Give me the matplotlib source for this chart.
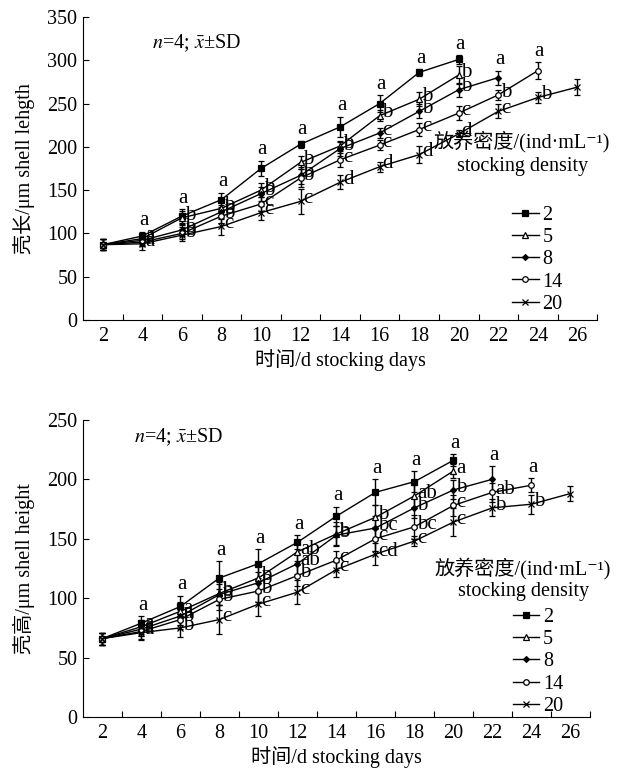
import numpy as np
import matplotlib
matplotlib.use("Agg")
import matplotlib.pyplot as plt
from matplotlib.lines import Line2D

plt.rcParams['font.family'] = ['Liberation Serif', 'Noto Sans CJK SC', 'DejaVu Serif']
plt.rcParams['mathtext.fontset'] = 'stix'

nan = np.nan
days = [2, 4, 6, 8, 10, 12, 14, 16, 18, 20, 22, 24, 26]
densities = ['2', '5', '8', '14', '20']
markers = ['s', '^', 'D', 'o', 'x']
mfc = ['black', 'white', 'black', 'white', 'black']
msizes = [4.5, 4, 3, 4, 5]

# ---- shell length (top) ----
len_mean = {
    '2':  [87, 97, 120, 139, 175, 203, 223, 250, 286, 301, nan, nan, nan],
    '5':  [87, 94, 118, 129, 150, 182, 201, 236, 255, 283, nan, nan, nan],
    '8':  [87, 92, 104, 125, 146, 167, 198, 216, 241, 266, 280, nan, nan],
    '14': [87, 90, 100, 120, 134, 164, 185, 202, 220, 239, 260, 288, nan],
    '20': [87, 88, 98, 108, 124, 137, 159, 177, 191, 215, 241, 257, 269],
}
len_sd = {
    '2':  [6, 5, 8, 8, 9, 4, 12, 10, 4, 5, nan, nan, nan],
    '5':  [6, 5, 8, 8, 8, 8, 6, 6, 8, 10, nan, nan, nan],
    '8':  [6, 5, 7, 8, 8, 10, 8, 6, 8, 8, 8, nan, nan],
    '14': [6, 5, 7, 8, 8, 10, 8, 6, 8, 8, 6, 10, nan],
    '20': [6, 7, 7, 10, 8, 14, 8, 6, 10, 4, 8, 6, 9],
}
len_letters = {
    '2':  ['', 'a', 'a', 'a', 'a', 'a', 'a', 'a', 'a', 'a', '', '', ''],
    '5':  ['', 'a', 'b', 'b', 'b', 'b', 'b', 'b', 'b', 'b', '', '', ''],
    '8':  ['', 'a', 'b', 'b', 'b', 'b', 'b', 'c', 'b', 'b', 'a', '', ''],
    '14': ['', 'a', 'b', 'b', 'c', 'b', 'c', 'c', 'c', 'c', 'b', 'a', ''],
    '20': ['', 'a', 'b', 'c', 'c', 'c', 'd', 'd', 'd', 'd', 'c', 'b', ''],
}

# ---- shell height (bottom) ----
hgt_mean = {
    '2':  [66, 79, 93, 117, 129, 147, 169, 189, 198, 216, nan, nan, nan],
    '5':  [66, 76, 89, 104, 117, 139, 154, 168, 186, 207, nan, nan, nan],
    '8':  [66, 74, 85, 103, 113, 129, 153, 159, 176, 191, 200, nan, nan],
    '14': [66, 72, 82, 99, 106, 119, 132, 150, 160, 178, 189, 195, nan],
    '20': [66, 71, 75, 82, 95, 105, 124, 137, 148, 164, 176, 179, 188],
}
hgt_sd = {
    '2':  [5, 6, 9, 14, 12, 6, 8, 11, 9, 5, nan, nan, nan],
    '5':  [5, 6, 8, 10, 10, 8, 10, 10, 9, 6, nan, nan, nan],
    '8':  [5, 6, 8, 9, 9, 9, 8, 10, 9, 8, 11, nan, nan],
    '14': [5, 6, 8, 9, 9, 9, 8, 10, 10, 9, 8, 6, nan],
    '20': [5, 6, 8, 12, 10, 10, 6, 9, 4, 12, 7, 8, 6],
}
hgt_letters = {
    '2':  ['', 'a', 'a', 'a', 'a', 'a', 'a', 'a', 'a', 'a', '', '', ''],
    '5':  ['', 'a', 'a', 'b', 'b', 'ab', 'b', 'b', 'ab', 'a', '', '', ''],
    '8':  ['', 'a', 'a', 'b', 'b', 'ab', 'b', 'bc', 'b', 'b', 'a', '', ''],
    '14': ['', 'a', 'b', 'b', 'b', 'b', 'c', 'c', 'bc', 'c', 'ab', 'a', ''],
    '20': ['', 'a', 'b', 'c', 'c', 'c', 'c', 'cd', 'c', 'c', 'b', 'b', ''],
}

legend_title_1 = "放养密度/(ind·mL⁻¹)"
legend_title_2 = "stocking density"
xlabel = "时间/d stocking days"
fs = 14.5
fs_letter = 15

fig = plt.figure(figsize=(6.24, 7.72), dpi=100)
ax1 = fig.add_axes([0.133, 0.5855, 0.824, 0.3925])
ax2 = fig.add_axes([0.133, 0.0712, 0.8125, 0.385])


def draw(ax, means, sds, letters, ylim, yticks, ylabel, title_pos, legend_anchor, note_xy):
    x = np.array(days, dtype=float)
    for i, d in enumerate(densities):
        m = np.array(means[d], dtype=float)
        s = np.array(sds[d], dtype=float)
        ok = ~np.isnan(m)
        ax.errorbar(x[ok], m[ok], yerr=s[ok], color='black', lw=1.0,
                    elinewidth=1.0, capsize=2.3, capthick=1.0,
                    marker=markers[i], ms=msizes[i], mfc=mfc[i], mec='black',
                    mew=0.9, zorder=3)
    # significance letters
    for j, day in enumerate(days):
        idx = [k for k, d in enumerate(densities) if not np.isnan(means[d][j])]
        if not idx:
            continue
        top_k = max(idx, key=lambda k: means[densities[k]][j])
        for k in idx:
            d = densities[k]
            m, s, lab = means[d][j], sds[d][j], letters[d][j]
            if not lab:
                continue
            if k == top_k:
                ax.annotate(lab, (day, m + s), xytext=(1, 1), textcoords='offset points',
                            ha='center', va='bottom', fontsize=fs_letter)
            else:
                ax.annotate(lab, (day, m), xytext=(2, 2), textcoords='offset points',
                            ha='left', va='center', fontsize=fs_letter)
    ax.set_xlim(1, 27)
    ax.set_ylim(*ylim)
    ax.set_yticks(yticks)
    ax.set_xticks(np.arange(3, 28, 2))
    ax.set_xticklabels([])
    ax.set_xticks(days, minor=True)
    ax.set_xticklabels([str(d) for d in days], minor=True)
    ax.tick_params(axis='x', which='major', direction='in', length=4, width=0.8)
    ax.tick_params(axis='x', which='minor', length=0, pad=5, labelsize=fs)
    ax.tick_params(axis='y', direction='in', length=4, width=0.8, labelsize=fs, pad=4)
    for sp in ['top', 'right']:
        ax.spines[sp].set_visible(False)
    for sp in ['left', 'bottom']:
        ax.spines[sp].set_linewidth(0.8)
    ax.set_xlabel(xlabel, fontsize=fs, labelpad=2)
    ax.set_ylabel(ylabel, fontsize=fs, labelpad=9)
    # legend title (two centred lines)
    ax.text(title_pos[0], title_pos[1], legend_title_1, transform=ax.transAxes,
            ha='center', va='center', fontsize=fs)
    ax.text(title_pos[0], title_pos[2], legend_title_2, transform=ax.transAxes,
            ha='center', va='center', fontsize=fs)
    handles = [Line2D([], [], color='black', lw=1.0, marker=markers[i], ms=msizes[i],
                      mfc=mfc[i], mec='black', mew=0.9) for i in range(len(densities))]
    ax.legend(handles, densities, loc='upper left',
              bbox_to_anchor=legend_anchor, frameon=False, fontsize=fs,
              handlelength=1.3, handletextpad=0.2,
              labelspacing=0.16, borderpad=0.0, borderaxespad=0.0, numpoints=1)
    ax.text(note_xy[0], note_xy[1], r"$n$=4; $\bar{x}$±SD", transform=ax.transAxes,
            fontsize=fs, ha='left', va='center')


draw(ax1, len_mean, len_sd, len_letters, (0, 350), np.arange(0, 351, 50),
     "壳长/μm shell lehgth", (0.854, 0.590, 0.505), (0.835, 0.378), (0.135, 0.915))
draw(ax2, hgt_mean, hgt_sd, hgt_letters, (0, 250), np.arange(0, 251, 50),
     "壳高/μm shell height", (0.868, 0.50, 0.422), (0.848, 0.368), (0.10, 0.94))

fig.savefig("out.png", dpi=100)
